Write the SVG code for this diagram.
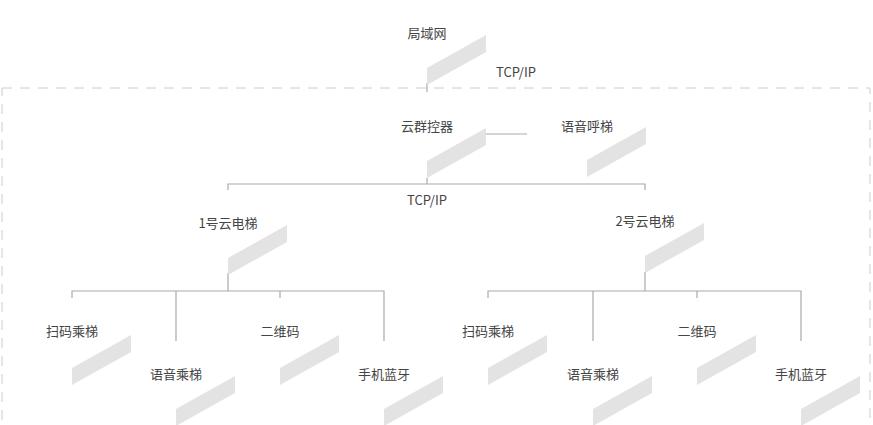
<svg xmlns="http://www.w3.org/2000/svg" width="873" height="425" viewBox="0 0 873 425">
<style>
text{font-family:"Noto Sans CJK SC","Noto Sans",sans-serif;font-size:13px;fill:#444;text-anchor:middle}
.s{fill:#e3e3e3}
.c line,.c path{stroke:#aaa;stroke-width:1.2;fill:none}
</style>
<defs><polygon id="p" class="s" points="0,33 59,0 59,17 0,50"/></defs>
<rect x="2" y="88" width="868" height="360" fill="none" stroke="#ccc" stroke-dasharray="10,8"/>
<g class="c">
<line x1="427" y1="83" x2="427" y2="92"/>
<line x1="486" y1="134" x2="527" y2="134"/>
<path d="M427 178V184M228 190V184H645V190"/>
<path d="M228 273V291M72 298V291H384V341M176 291V341M280 291V298"/>
<path d="M645 272V291M488 298V291H801V341M593 291V341M697 291V298"/>
</g>
<text x="516" y="77">TCP/IP</text>
<text x="427" y="205">TCP/IP</text>
<g id="lan"><text x="427" y="38">局域网</text><use href="#p" x="427" y="35"/></g>
<g id="ctrl"><text x="427" y="131">云群控器</text><use href="#p" x="427" y="128"/></g>
<g id="voice"><text x="587" y="131">语音呼梯</text><use href="#p" x="587" y="127"/></g>
<g id="e1"><text x="228" y="228">1号云电梯</text><use href="#p" x="228" y="225"/></g>
<g id="e2"><text x="645" y="226">2号云电梯</text><use href="#p" x="645" y="223"/></g>
<g id="a1"><text x="72" y="336">扫码乘梯</text><use href="#p" x="72" y="335"/></g>
<g id="a2"><text x="176" y="379">语音乘梯</text><use href="#p" x="176" y="376"/></g>
<g id="a3"><text x="280" y="336">二维码</text><use href="#p" x="280" y="335"/></g>
<g id="a4"><text x="384" y="379">手机蓝牙</text><use href="#p" x="384" y="376"/></g>
<g id="b1"><text x="488" y="336">扫码乘梯</text><use href="#p" x="488" y="335"/></g>
<g id="b2"><text x="593" y="379">语音乘梯</text><use href="#p" x="593" y="376"/></g>
<g id="b3"><text x="697" y="336">二维码</text><use href="#p" x="697" y="335"/></g>
<g id="b4"><text x="801" y="379">手机蓝牙</text><use href="#p" x="801" y="376"/></g>
</svg>
